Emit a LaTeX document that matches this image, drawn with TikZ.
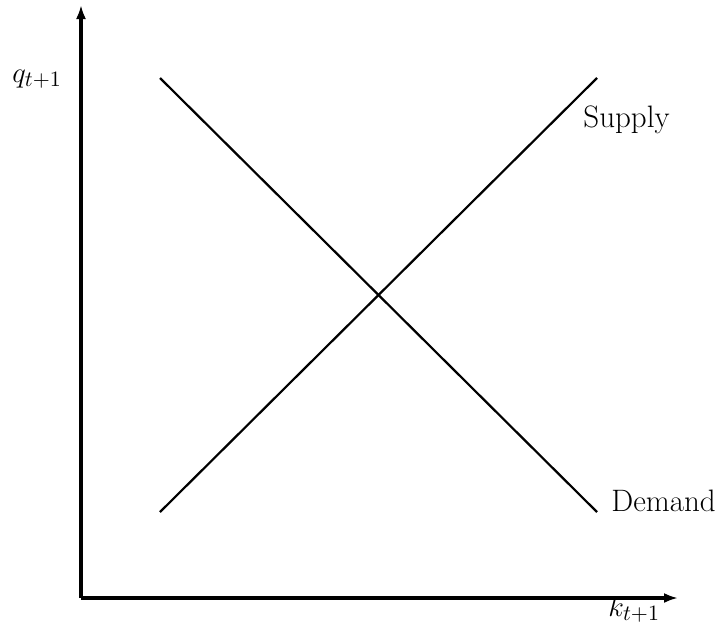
\documentclass[tikz,border=0pt]{standalone}
\usepackage{amsmath,amssymb}
\usepackage{tikz}
\usetikzlibrary{arrows.meta}
\tikzset{
  axis/.style={line width=1.8pt,-{Latex[length=7pt,width=5pt]}},
  curve/.style={line width=1.1pt},
  lbl/.style={font=\fontsize{15.5}{18}\selectfont,inner sep=0pt}
}
\begin{document}
\begin{tikzpicture}[x=0.5pt,y=-0.5pt]
\useasboundingbox (0,0) rectangle (727,632);
\coordinate (O) at (81,598); \coordinate (ytop) at (81,5); \coordinate (xend) at (678,598);
\draw[axis] (O)--(ytop); \draw[axis] (O)--(xend);
\node[lbl,anchor=base west] (qlab) at (12,82){$q_{t+1}$};
\node[lbl,anchor=base west] (klab) at (608,616){$k_{t+1}$};
% demand and supply
\coordinate (d1) at (160,78); \coordinate (d2) at (597,512);
\coordinate (s1) at (160,512); \coordinate (s2) at (597,78);
\draw[curve] (d1)--(d2); \draw[curve] (s1)--(s2);
\node[lbl,anchor=base west] (slab) at (583,127){Supply};
\node[lbl,anchor=base west] (dlab) at (611,511){Demand};
\end{tikzpicture}
\end{document}
